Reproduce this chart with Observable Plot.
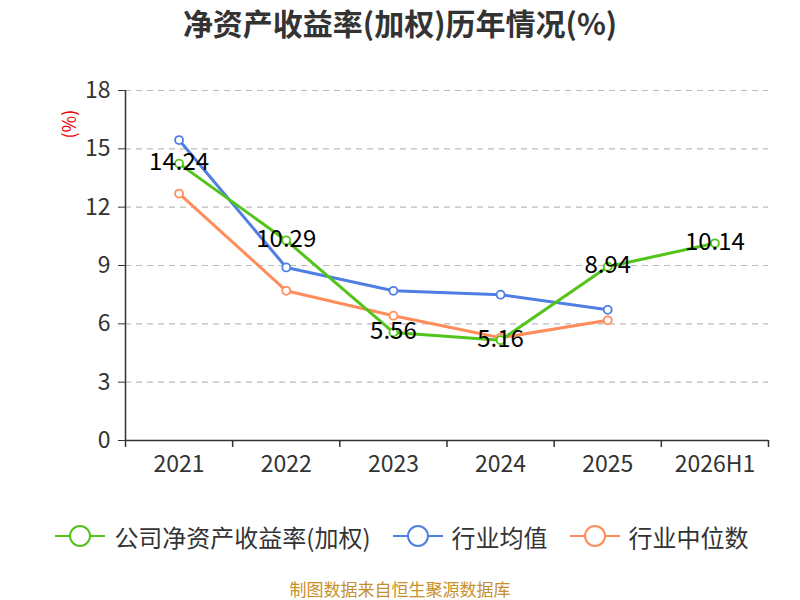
<!DOCTYPE html>
<html><head><meta charset="utf-8">
<script src="https://cdn.jsdelivr.net/npm/d3@7"></script>
<script src="https://cdn.jsdelivr.net/npm/@observablehq/plot@0.6"></script>
<style>
body{margin:0;background:#fff;font-family:"Noto Sans CJK SC","Noto Sans",sans-serif;width:800px;height:600px;position:relative;}
#title{height:50px;line-height:44px;text-align:center;font-size:30px;font-weight:bold;color:#333;}
#legend{position:absolute;left:0;top:516px;width:800px;height:40px;display:flex;justify-content:center;align-items:center;gap:22px;font-size:24px;color:#333;padding-left:4px;box-sizing:border-box;}
.item{display:flex;align-items:center;gap:9px;}
#caption{position:absolute;left:0;top:579px;width:800px;text-align:center;font-size:17px;line-height:20px;color:#c8902a;}
</style></head>
<body>
<div id="title">净资产收益率(加权)历年情况(%)</div>
<div id="chart"></div>
<div id="legend"></div>
<div id="caption">制图数据来自恒生聚源数据库</div>
<script>
const categories = ["2021","2022","2023","2024","2025","2026H1"];
const companyValues = [14.24, 10.29, 5.56, 5.16, 8.94, 10.14];
const industryAvg = [15.45, 8.9, 7.7, 7.5, 6.72];
const industryMedian = [12.7, 7.7, 6.42, 5.28, 6.18];
const yTicks = [0, 3, 6, 9, 12, 15, 18];
const seriesNames = ["公司净资产收益率(加权)", "行业均值", "行业中位数"];
const seriesColors = ["#52c41a", "#4f7fe3", "#ff8c5a"];

const toRows = (vals, s) => vals.map((v, i) => ({i, v, s}));
const company = toRows(companyValues, seriesNames[0]);
const avg = toRows(industryAvg, seriesNames[1]);
const med = toRows(industryMedian, seriesNames[2]);
const boundaries = d3.range(categories.length + 1).map(k => k - 0.5);

function lineMarks(data, color) {
  return [
    Plot.line(data, {x: "i", y: "v", stroke: color, strokeWidth: 3}),
    Plot.dot(data, {x: "i", y: "v", r: 4, stroke: color, strokeWidth: 1.8, fill: "#fff"})
  ];
}

const chart = Plot.plot({
  width: 800,
  height: 430,
  marginLeft: 125,
  marginRight: 32,
  marginTop: 40,
  marginBottom: 40,
  style: {fontFamily: '"Noto Sans CJK SC","Noto Sans",sans-serif', background: "#fff"},
  x: {type: "linear", domain: [-0.5, categories.length - 0.5]},
  y: {domain: [0, 18]},
  marks: [
    Plot.gridY(yTicks.filter(t => t > 0), {stroke: "#bbb", strokeOpacity: 1, strokeDasharray: "6,5", strokeWidth: 1.2}),
    Plot.axisY({ticks: yTicks, tickSize: 7, tickPadding: 8, fontSize: 23, label: null, color: "#333", stroke: "#333"}),
    Plot.ruleX([-0.5], {stroke: "#333", strokeWidth: 1.5}),
    Plot.ruleY([0], {stroke: "#333", strokeWidth: 1.5}),
    Plot.axisX({ticks: boundaries, tickFormat: () => "", tickSize: 7, stroke: "#333", strokeWidth: 1.5, label: null}),
    Plot.axisX({ticks: d3.range(categories.length), tickFormat: i => categories[i], tickSize: 0, tickPadding: 15, fontSize: 23, color: "#333", label: null}),
    Plot.text(["(%)"], {frameAnchor: "top-left", dx: -62, dy: 48, rotate: -90, fill: "#e00", fontSize: 18}),
    ...lineMarks(avg, seriesColors[1]),
    ...lineMarks(med, seriesColors[2]),
    ...lineMarks(company, seriesColors[0]),
    Plot.text(company, {x: "i", y: "v", text: d => d.v.toFixed(2), fontSize: 24, fill: "#000", dy: -1})
  ]
});
document.getElementById("chart").appendChild(chart);

const legend = document.getElementById("legend");
seriesNames.forEach((name, k) => {
  const item = document.createElement("div");
  item.className = "item";
  item.innerHTML = `<svg width="50" height="24"><line x1="0" y1="12" x2="50" y2="12" stroke="${seriesColors[k]}" stroke-width="2"/><circle cx="25" cy="12" r="10" fill="#fff" stroke="${seriesColors[k]}" stroke-width="2"/></svg><span>${name}</span>`;
  legend.appendChild(item);
});
</script>
</body></html>
